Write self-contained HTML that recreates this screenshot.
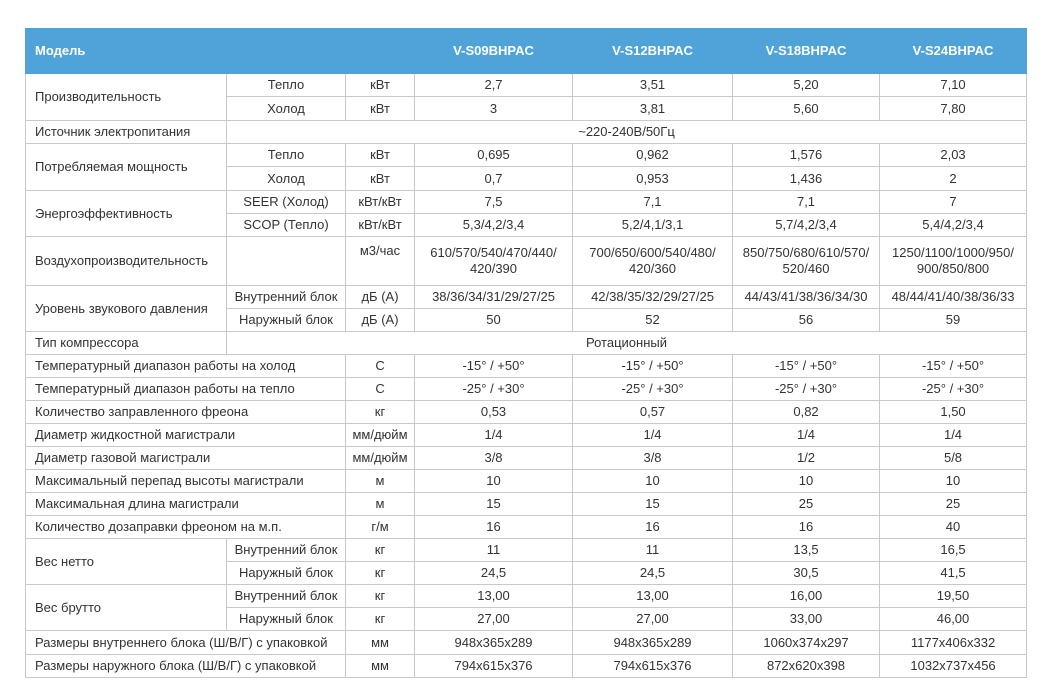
<!DOCTYPE html>
<html><head><meta charset="utf-8"><style>
body{margin:0;background:#fff;width:1049px;height:697px;overflow:hidden;}
table{position:absolute;left:25px;top:28px;border-collapse:collapse;table-layout:fixed;width:1002px;font-family:"Liberation Sans",sans-serif;font-size:13px;color:#333;}
td{border:1px solid #c9c9c9;padding:0;text-align:center;line-height:16px;overflow:hidden;white-space:nowrap;}
td.l{text-align:left;padding-left:9px;}
tr.h td{background:#4fa3d9;color:#fff;font-weight:bold;border-color:#4fa3d9;height:44px;}
tr{height:23px;}
</style></head><body>
<table>
<colgroup><col style="width:201px"><col style="width:119px"><col style="width:69px"><col style="width:158px"><col style="width:160px"><col style="width:147px"><col style="width:147px"></colgroup>
<tr class="h"><td class="l" colspan="3">Модель</td><td>V-S09BHPAC</td><td>V-S12BHPAC</td><td>V-S18BHPAC</td><td>V-S24BHPAC</td></tr>
<tr><td class="l" rowspan="2">Производительность</td><td>Тепло</td><td>кВт</td><td>2,7</td><td>3,51</td><td>5,20</td><td>7,10</td></tr>
<tr style="height:24px"><td>Холод</td><td>кВт</td><td>3</td><td>3,81</td><td>5,60</td><td>7,80</td></tr>
<tr><td class="l">Источник электропитания</td><td colspan="6">~220-240В/50Гц</td></tr>
<tr><td class="l" rowspan="2">Потребляемая мощность</td><td>Тепло</td><td>кВт</td><td>0,695</td><td>0,962</td><td>1,576</td><td>2,03</td></tr>
<tr style="height:24px"><td>Холод</td><td>кВт</td><td>0,7</td><td>0,953</td><td>1,436</td><td>2</td></tr>
<tr><td class="l" rowspan="2">Энергоэффективность</td><td>SEER (Холод)</td><td>кВт/кВт</td><td>7,5</td><td>7,1</td><td>7,1</td><td>7</td></tr>
<tr><td>SCOP (Тепло)</td><td>кВт/кВт</td><td>5,3/4,2/3,4</td><td>5,2/4,1/3,1</td><td>5,7/4,2/3,4</td><td>5,4/4,2/3,4</td></tr>
<tr style="height:49px"><td class="l">Воздухопроизводительность</td><td></td><td style="vertical-align:top;padding-top:6px">м3/час</td><td style="white-space:normal">610/570/540/470/440/<br>420/390</td><td>700/650/600/540/480/<br>420/360</td><td>850/750/680/610/570/<br>520/460</td><td>1250/1100/1000/950/<br>900/850/800</td></tr>
<tr><td class="l" rowspan="2">Уровень звукового давления</td><td>Внутренний блок</td><td>дБ (A)</td><td>38/36/34/31/29/27/25</td><td>42/38/35/32/29/27/25</td><td>44/43/41/38/36/34/30</td><td>48/44/41/40/38/36/33</td></tr>
<tr><td>Наружный блок</td><td>дБ (A)</td><td>50</td><td>52</td><td>56</td><td>59</td></tr>
<tr><td class="l">Тип компрессора</td><td colspan="6">Ротационный</td></tr>
<tr><td class="l" colspan="2">Температурный диапазон работы на холод</td><td>С</td><td>-15° / +50°</td><td>-15° / +50°</td><td>-15° / +50°</td><td>-15° / +50°</td></tr>
<tr><td class="l" colspan="2">Температурный диапазон работы на тепло</td><td>С</td><td>-25° / +30°</td><td>-25° / +30°</td><td>-25° / +30°</td><td>-25° / +30°</td></tr>
<tr><td class="l" colspan="2">Количество заправленного фреона</td><td>кг</td><td>0,53</td><td>0,57</td><td>0,82</td><td>1,50</td></tr>
<tr><td class="l" colspan="2">Диаметр жидкостной магистрали</td><td>мм/дюйм</td><td>1/4</td><td>1/4</td><td>1/4</td><td>1/4</td></tr>
<tr><td class="l" colspan="2">Диаметр газовой магистрали</td><td>мм/дюйм</td><td>3/8</td><td>3/8</td><td>1/2</td><td>5/8</td></tr>
<tr><td class="l" colspan="2">Максимальный перепад высоты магистрали</td><td>м</td><td>10</td><td>10</td><td>10</td><td>10</td></tr>
<tr><td class="l" colspan="2">Максимальная длина магистрали</td><td>м</td><td>15</td><td>15</td><td>25</td><td>25</td></tr>
<tr><td class="l" colspan="2">Количество дозаправки фреоном на м.п.</td><td>г/м</td><td>16</td><td>16</td><td>16</td><td>40</td></tr>
<tr><td class="l" rowspan="2">Вес нетто</td><td>Внутренний блок</td><td>кг</td><td>11</td><td>11</td><td>13,5</td><td>16,5</td></tr>
<tr><td>Наружный блок</td><td>кг</td><td>24,5</td><td>24,5</td><td>30,5</td><td>41,5</td></tr>
<tr><td class="l" rowspan="2">Вес брутто</td><td>Внутренний блок</td><td>кг</td><td>13,00</td><td>13,00</td><td>16,00</td><td>19,50</td></tr>
<tr><td>Наружный блок</td><td>кг</td><td>27,00</td><td>27,00</td><td>33,00</td><td>46,00</td></tr>
<tr style="height:24px"><td class="l" colspan="2">Размеры внутреннего блока (Ш/В/Г) с упаковкой</td><td>мм</td><td>948x365x289</td><td>948x365x289</td><td>1060x374x297</td><td>1177x406x332</td></tr>
<tr><td class="l" colspan="2">Размеры наружного блока (Ш/В/Г) с упаковкой</td><td>мм</td><td>794x615x376</td><td>794x615x376</td><td>872x620x398</td><td>1032x737x456</td></tr>
</table>
</body></html>
